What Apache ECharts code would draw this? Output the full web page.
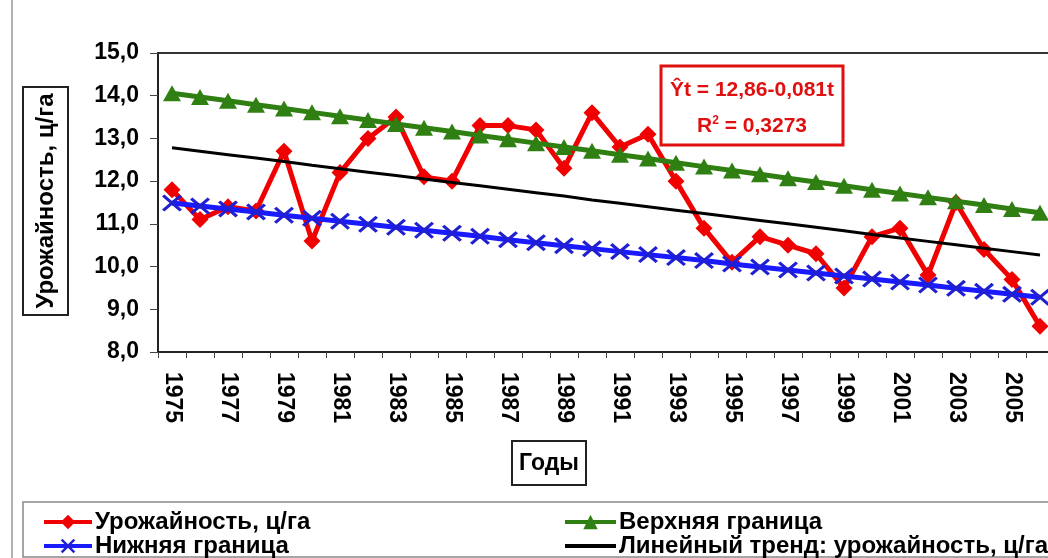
<!DOCTYPE html>
<html>
<head>
<meta charset="utf-8">
<script src="https://cdn.jsdelivr.net/npm/echarts@6/dist/echarts.min.js"></script>
<style>
html,body{margin:0;padding:0;background:#fff;}
#c{width:1048px;height:558px;}
</style>
</head>
<body>
<div id="c"></div>
<script>
const years = ['1975','1976','1977','1978','1979','1980','1981','1982','1983','1984','1985','1986','1987','1988','1989','1990','1991','1992','1993','1994','1995','1996','1997','1998','1999','2000','2001','2002','2003','2004','2005','2006'];
const yieldVals = [11.8,11.1,11.4,11.3,12.7,10.6,12.2,13.0,13.5,12.1,12.0,13.3,13.3,13.2,12.3,13.6,12.8,13.1,12.0,10.9,10.1,10.7,10.5,10.3,9.5,10.7,10.9,9.8,11.5,10.4,9.7,8.6];
const upperVals = [14.06,13.97,13.88,13.79,13.70,13.61,13.52,13.43,13.34,13.25,13.16,13.07,12.98,12.89,12.80,12.71,12.62,12.53,12.43,12.34,12.25,12.16,12.07,11.98,11.89,11.80,11.71,11.62,11.53,11.44,11.35,11.26];
const lowerVals = [11.49,11.42,11.35,11.28,11.20,11.13,11.06,10.99,10.92,10.85,10.78,10.71,10.63,10.56,10.49,10.42,10.35,10.28,10.21,10.14,10.06,9.99,9.92,9.85,9.78,9.71,9.64,9.57,9.49,9.42,9.35,9.28];
const trendVals = [12.78,12.70,12.62,12.54,12.46,12.37,12.29,12.21,12.13,12.05,11.97,11.89,11.81,11.73,11.65,11.56,11.48,11.40,11.32,11.24,11.16,11.08,11.00,10.92,10.84,10.75,10.67,10.59,10.51,10.43,10.35,10.27];
const seriesNames = ['Урожайность, ц/га','Верхняя граница','Нижняя граница','Линейный тренд: урожайность, ц/га'];
const yAxisTitle = 'Урожайность, ц/га';
const xAxisTitle = 'Годы';
const eqLine1 = 'Ŷt = 12,86-0,081t';
const eqLine2 = '0,3273';

const FONT = 'Liberation Sans';
const crossPath = 'path://M0,1.2 L1.2,0 L5,3.8 L8.8,0 L10,1.2 L6.2,5 L10,8.8 L8.8,10 L5,6.2 L1.2,10 L0,8.8 L3.8,5 Z';

const chart = echarts.init(document.getElementById('c'));
const legendText = {fontFamily: FONT, fontWeight: 'bold', fontSize: 24, color: '#000', lineHeight: 23, padding: [0,0,0,-2]};

chart.setOption({
  animation: false,
  backgroundColor: '#fff',
  grid: {left: 158, top: 53, width: 896, bottom: 206, outerBoundsMode: 'none', show: true, borderColor: '#333', borderWidth: 2},
  xAxis: {
    type: 'category',
    data: years,
    boundaryGap: true,
    axisLine: {lineStyle: {color: '#222', width: 2}},
    axisTick: {show: true, interval: 0, length: 6, lineStyle: {color: '#444', width: 1}},
    axisLabel: {interval: 1, rotate: -90, margin: 20, fontFamily: FONT, fontWeight: 'bold', fontSize: 23, color: '#000'},
    splitLine: {show: false}
  },
  yAxis: {
    type: 'value',
    min: 8, max: 15, interval: 1,
    axisLine: {show: true, lineStyle: {color: '#222', width: 2}},
    axisTick: {show: true, length: 8, lineStyle: {color: '#444', width: 1}},
    axisLabel: {margin: 19, fontFamily: FONT, fontWeight: 'bold', fontSize: 23, color: '#000',
      formatter: v => v.toFixed(1).replace('.', ',')},
    splitLine: {show: false}
  },
  legend: [
    {data: [seriesNames[0], seriesNames[2]], orient: 'vertical', left: 42, top: 510, height: 80, padding: 0,
     itemWidth: 48, itemHeight: 18, itemGap: 0, lineStyle: {width: 4}, textStyle: legendText},
    {data: [seriesNames[1], {name: seriesNames[3], itemStyle: {opacity: 0}}], orient: 'vertical', left: 563, top: 510, height: 80, padding: 0,
     itemWidth: 51, itemHeight: 18, itemGap: 0, lineStyle: {width: 4}, textStyle: legendText}
  ],
  series: [
    {name: seriesNames[0], type: 'line', data: yieldVals, symbol: 'diamond', symbolSize: 17,
     lineStyle: {color: '#f00000', width: 5}, itemStyle: {color: '#f00000'}, z: 2},
    {name: seriesNames[1], type: 'line', data: upperVals, symbol: 'triangle', symbolSize: [18, 16],
     lineStyle: {color: '#2f7f12', width: 5}, itemStyle: {color: '#2f7f12'}, z: 3},
    {name: seriesNames[2], type: 'line', data: lowerVals, symbol: crossPath, symbolSize: [20, 17],
     lineStyle: {color: '#1a1aff', width: 5}, itemStyle: {color: '#2020d0'}, z: 4},
    {name: seriesNames[3], type: 'line', data: trendVals, symbol: 'none',
     lineStyle: {color: '#000', width: 3}, itemStyle: {color: '#000'}, z: 5}
  ],
  graphic: [
    {type: 'line', shape: {x1: 12, y1: 0, x2: 12, y2: 558}, style: {stroke: '#999', lineWidth: 1.5}, silent: true},
    {type: 'rect', shape: {x: 23, y: 502, width: 1040, height: 55}, style: {fill: null, stroke: '#888', lineWidth: 1.5}, silent: true},
    {type: 'rect', shape: {x: 23, y: 87, width: 45, height: 228}, style: {fill: '#fff', stroke: '#222', lineWidth: 2}, silent: true},
    {type: 'text', x: 46, y: 201, rotation: Math.PI / 2,
     style: {text: yAxisTitle, font: 'bold 24px "' + FONT + '"', fill: '#000', align: 'center', verticalAlign: 'middle'}, silent: true},
    {type: 'rect', shape: {x: 512, y: 441, width: 74, height: 44}, style: {fill: '#fff', stroke: '#222', lineWidth: 2}, silent: true},
    {type: 'text', x: 549, y: 464,
     style: {text: xAxisTitle, font: 'bold 23px "' + FONT + '"', fill: '#000', align: 'center', verticalAlign: 'middle'}, silent: true},
    {type: 'rect', shape: {x: 661, y: 66, width: 182, height: 79}, style: {fill: '#fff', stroke: '#e01010', lineWidth: 3}, z: 100, silent: true},
    {type: 'text', x: 752, y: 90, z: 101,
     style: {text: eqLine1, font: 'bold 21px "' + FONT + '"', fill: '#e01010', align: 'center', verticalAlign: 'middle'}, silent: true},
    {type: 'text', x: 752, y: 126, z: 101,
     style: {text: '{a|R}{s|2}{a| = ' + eqLine2 + '}', align: 'center', verticalAlign: 'middle',
       rich: {a: {font: 'bold 21px "' + FONT + '"', fill: '#e01010', color: '#e01010'},
              s: {font: 'bold 12px "' + FONT + '"', fill: '#e01010', color: '#e01010', verticalAlign: 'top', padding: [0,0,10,0]}}}, silent: true}
  ]
});
</script>
</body>
</html>
